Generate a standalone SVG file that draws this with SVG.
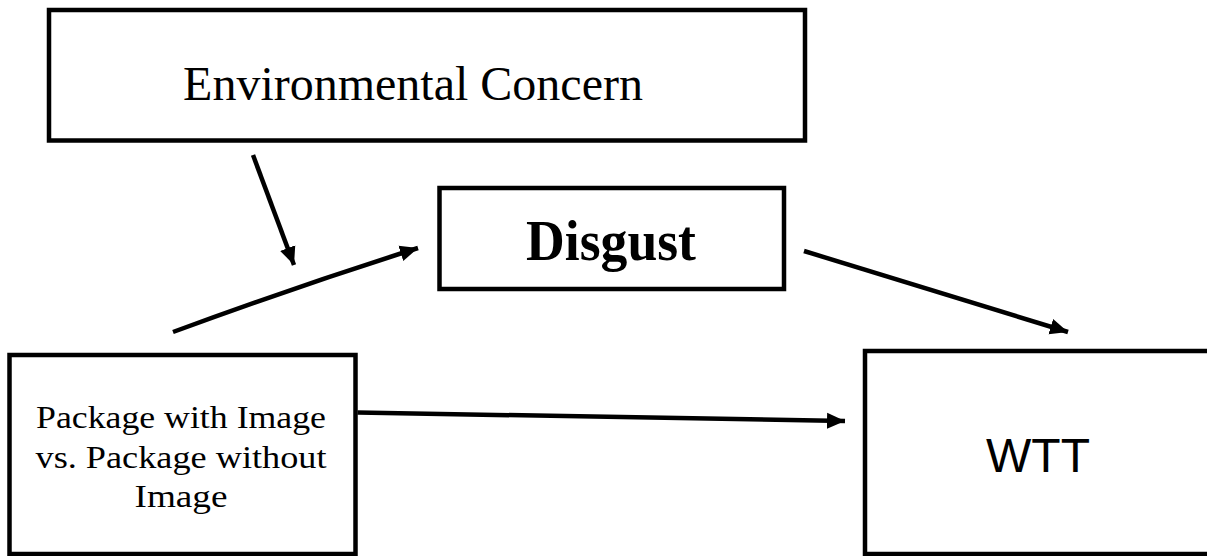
<svg xmlns="http://www.w3.org/2000/svg" width="1207" height="556" viewBox="0 0 1207 556">
  <style>
    .box { fill: #ffffff; stroke: #000000; stroke-width: 4.5; }
    .serif { font-family: "Liberation Serif", "Times New Roman", serif; fill: #000000; text-anchor: middle; }
    .sans { font-family: "Liberation Sans", Arial, sans-serif; fill: #000000; text-anchor: middle; }
    .edge { stroke: #000000; stroke-width: 4.5; fill: none; marker-end: url(#arrow); }
  </style>
  <defs>
    <marker id="arrow" markerUnits="userSpaceOnUse" markerWidth="20" markerHeight="18" refX="18" refY="9" orient="auto">
      <path d="M0,1 L18,9 L0,17 Z" fill="#000000"/>
    </marker>
  </defs>
  <rect width="1207" height="556" fill="#ffffff"/>

  <g id="node-environmental-concern">
    <rect class="box" x="49" y="10" width="756" height="130.5"/>
    <text class="serif" x="413" y="100" font-size="48">Environmental Concern</text>
  </g>

  <g id="node-disgust">
    <rect class="box" x="439.5" y="188" width="344.5" height="101"/>
    <text class="serif" x="611" y="260" font-size="56" font-weight="bold" textLength="170" lengthAdjust="spacingAndGlyphs">Disgust</text>
  </g>

  <g id="node-package">
    <rect class="box" x="9.5" y="355" width="346" height="199"/>
    <text class="serif" x="181" y="428" font-size="32" textLength="290" lengthAdjust="spacingAndGlyphs">Package with Image</text>
    <text class="serif" x="181" y="468" font-size="32" textLength="291" lengthAdjust="spacingAndGlyphs">vs. Package without</text>
    <text class="serif" x="181" y="507" font-size="32" textLength="93" lengthAdjust="spacingAndGlyphs">Image</text>
  </g>

  <g id="node-wtt">
    <rect class="box" x="865" y="351" width="360" height="203"/>
    <text class="sans" x="1038" y="472" font-size="48">WTT</text>
  </g>

  <g id="connectors">
    <line class="edge" x1="253" y1="155" x2="294" y2="265"/>
    <path class="edge" d="M173,332 Q295,287 418,248"/>
    <line class="edge" x1="804" y1="251" x2="1068" y2="332"/>
    <line class="edge" x1="357.5" y1="412.5" x2="845" y2="421"/>
  </g>
</svg>
